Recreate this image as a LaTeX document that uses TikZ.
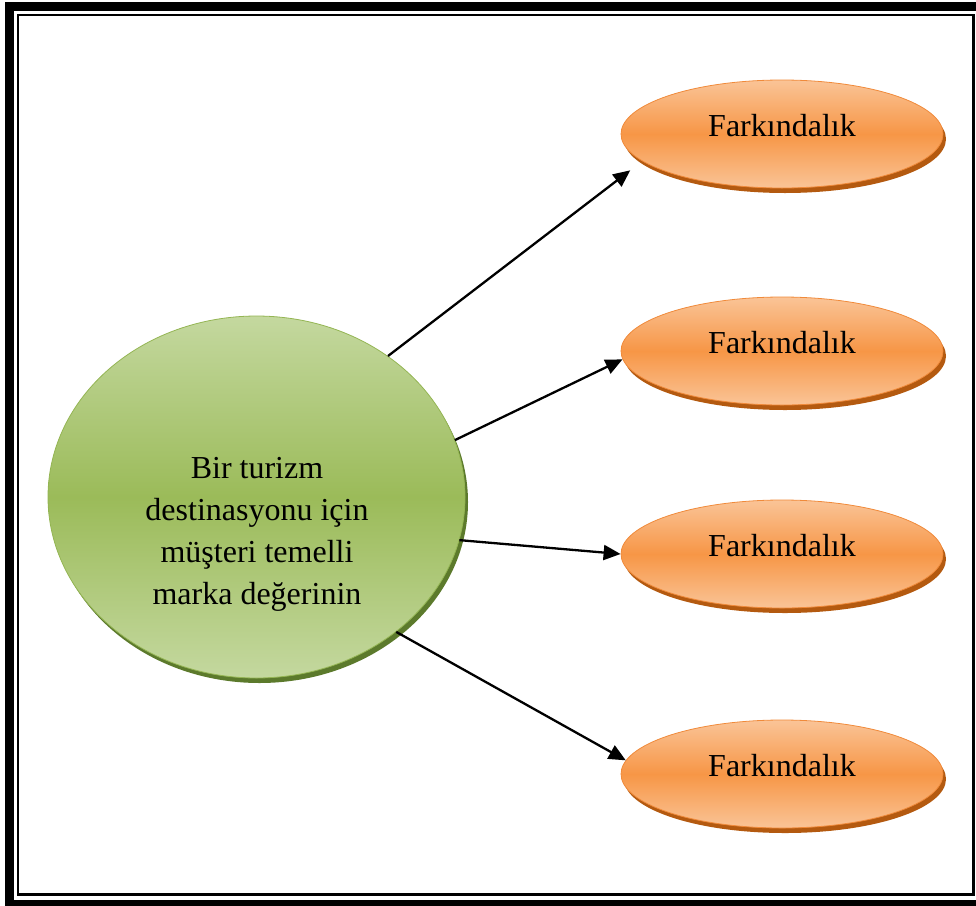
\documentclass[tikz,border=0pt]{standalone}
\usepackage{fontspec}
\setmainfont{Liberation Serif}
\usetikzlibrary{arrows.meta,calc,shadows,shapes.geometric}

\definecolor{orangemid}{HTML}{F79646}
\definecolor{orangelight}{HTML}{FAC497}
\definecolor{orangeline}{HTML}{F08A3A}
\definecolor{orangeshade}{HTML}{B45A10}
\definecolor{greenmid}{HTML}{9BBB59}
\definecolor{greenlight}{HTML}{C4D89F}
\definecolor{greenline}{HTML}{94B553}
\definecolor{greenshade}{HTML}{5C7A2C}

\begin{document}
\begin{tikzpicture}[x=1pt,y=-1pt,
  dimbox/.style={ellipse, minimum width=322pt, minimum height=108pt, inner sep=0pt,
    top color=orangelight, bottom color=orangelight, middle color=orangemid,
    draw=orangeline, line width=0.8pt,
    drop shadow={shadow xshift=3pt, shadow yshift=-5pt, fill=orangeshade, opacity=1}},
  corebox/.style={ellipse, minimum width=417pt, minimum height=362pt, inner sep=0pt,
    top color=greenlight, bottom color=greenlight, middle color=greenmid,
    draw=greenline, line width=0.8pt,
    drop shadow={shadow xshift=3pt, shadow yshift=-5pt, fill=greenshade, opacity=1}},
  label/.style={font=\fontsize{32}{42}\selectfont, text=black, align=center, inner sep=0pt},
  link/.style={line width=2.3pt, -{Triangle[length=17pt,width=15pt]}}
]
\useasboundingbox (0,0) rectangle (976,905);

% page frame: thick outer band and thin inner rule
\begin{scope}
  \clip (0,0) rectangle (976,905);
  \draw[line width=9pt] (9.5,6.5) rectangle (985,904.5);
  \draw[line width=2.5pt] (18.2,14.8) rectangle (973.5,894.5);
\end{scope}

% central concept
\node[corebox] (g) at (256.5,497) {};
\node[label] (gt) at (257,534) {Bir turizm\\destinasyonu için\\müşteri temelli\\marka değerinin};

% dimensions
\node[dimbox] (o1) at (782,134) {};
\node[dimbox] (o2) at (782,351) {};
\node[dimbox] (o3) at (782,554) {};
\node[dimbox] (o4) at (782,774) {};
\node[label] (t1) at ($(o1.center)+(0,-8)$) {Farkındalık};
\node[label] (t2) at ($(o2.center)+(0,-8)$) {Farkındalık};
\node[label] (t3) at ($(o3.center)+(0,-8)$) {Farkındalık};
\node[label] (t4) at ($(o4.center)+(0,-8)$) {Farkındalık};

% connectors
\draw[link, shorten >=15pt] (g.47) -- (o1.191);
\draw[link] (g.16) -- (o2.183);
\draw[link] (g.348) -- (o3.180);
\draw[link] (g.316) -- (o4.175);
\end{tikzpicture}
\end{document}
